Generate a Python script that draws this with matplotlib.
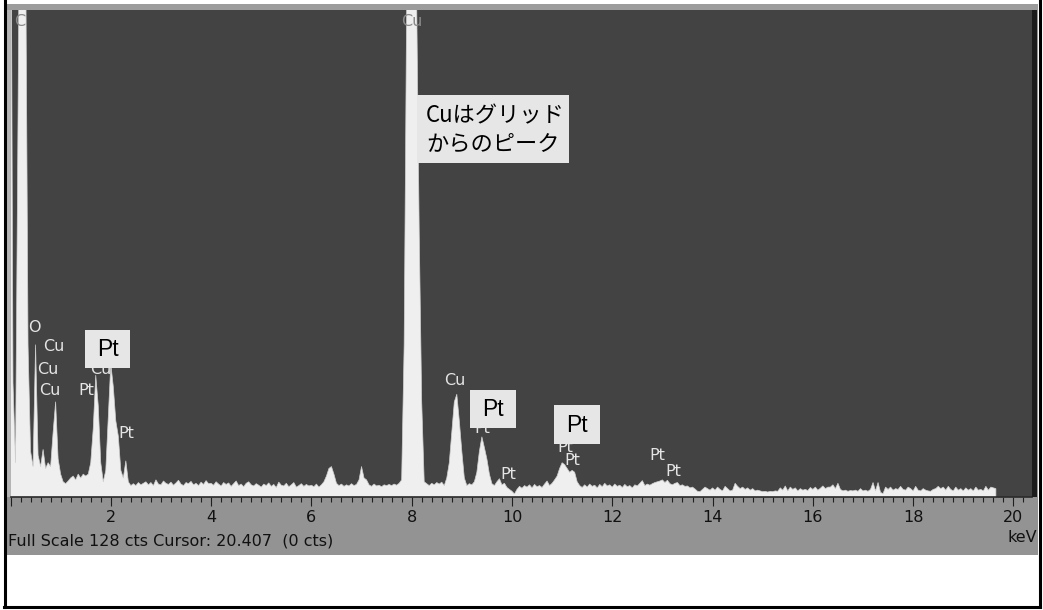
import numpy as np
import matplotlib.pyplot as plt
from matplotlib.ticker import MultipleLocator, FuncFormatter
from matplotlib.patches import Rectangle

plt.rcParams['font.family'] = ['DejaVu Sans', 'Noto Sans CJK JP']

# EDS spectrum, counts per 0.05 keV step, one row per keV
channel_kev = 0.05
counts_rows = [
    [200, 30, 9, 100, 200, 200, 150, 40, 12, 8, 40, 11, 8, 12.5, 7.5, 9, 8, 17, 25, 10],
    [6, 4, 3.5, 4.2, 5, 5.5, 4.5, 6, 5, 6, 5.5, 6, 9, 18, 32, 24, 9, 4, 7, 21],
    [35, 29, 20, 16, 7, 5, 9.5, 4, 3, 3.5, 3, 3.8, 3.2, 3.6, 4, 3.2, 3.8, 3, 4.5, 3.4],
    [3.2, 4.2, 3.6, 3.3, 3.9, 3.1, 3.7, 4.4, 3.4, 3.0, 3.8, 3.5, 4.1, 3.2, 3.6, 3.0, 3.9, 3.3, 4.3, 3.5],
    [3.6, 3.1, 4.0, 3.4, 2.9, 3.8, 3.3, 3.7, 2.8, 3.5, 4.2, 3.0, 3.4, 2.7, 3.6, 4.0, 3.2, 2.9, 3.5, 3.1],
    [2.6, 3.4, 3.0, 3.7, 2.8, 3.3, 2.5, 3.9, 3.1, 2.9, 3.6, 2.7, 3.2, 3.8, 2.6, 3.0, 3.5, 2.8, 3.3, 2.9],
    [3.1, 2.7, 3.4, 2.6, 3.2, 4.0, 5.5, 7.5, 8.0, 6.0, 3.6, 3.0, 3.4, 2.8, 3.2, 2.9, 3.5, 3.0, 3.3, 4.5],
    [8.0, 5.0, 4.5, 3.2, 2.8, 3.4, 2.9, 3.1, 2.7, 3.2, 3.0, 3.3, 3.0, 3.4, 3.1, 3.6, 4.5, 40, 130, 400],
    [600, 450, 130, 70, 25, 4, 3.5, 3.0, 3.6, 3.2, 3.8, 3.4, 3.9, 3.0, 5.0, 9, 17, 25, 27, 20],
    [12, 5, 3.0, 3.5, 3.2, 4.0, 6.5, 12, 15.8, 13, 10, 6, 3.5, 3.0, 4.0, 4.8, 3.2, 3.6, 2.5, 2.0],
    [1.5, 0.8, 2.0, 2.8, 2.3, 3.0, 2.6, 3.2, 2.4, 3.3, 2.7, 3.0, 2.5, 3.4, 4.2, 3.0, 3.6, 4.5, 5.5, 7.5],
    [9.0, 8.5, 7.5, 6.5, 7.0, 6.5, 4.0, 3.0, 2.5, 3.2, 2.6, 3.4, 2.8, 3.1, 2.4, 3.3, 2.7, 3.6, 2.9, 3.2],
    [2.6, 3.4, 2.8, 3.1, 2.5, 3.3, 2.7, 3.0, 2.4, 3.2, 2.9, 3.6, 4.3, 3.0, 3.4, 3.1, 3.5, 3.8, 4.0, 4.2],
    [4.5, 3.8, 4.4, 3.5, 3.2, 3.6, 3.8, 3.0, 3.2, 2.8, 2.9, 2.4, 2.6, 2.1, 1.5, 1.4, 2.0, 2.6, 2.2, 1.8],
    [2.4, 1.8, 2.6, 2.0, 1.6, 2.8, 2.2, 1.6, 1.8, 3.6, 2.8, 2.2, 2.6, 2.0, 2.4, 1.8, 2.2, 1.6, 1.8, 1.6],
    [1.4, 1.5, 1.3, 1.5, 1.4, 1.6, 1.5, 2.4, 1.8, 2.9, 1.6, 2.6, 2.0, 2.4, 1.6, 2.2, 1.8, 2.0, 1.7, 2.5],
    [2.0, 2.6, 1.8, 2.3, 2.9, 2.2, 2.6, 2.6, 3.2, 2.2, 3.6, 2.0, 1.6, 1.8, 1.5, 1.7, 1.6, 1.8, 1.5, 2.2],
    [1.6, 1.8, 1.5, 2.0, 3.8, 1.6, 3.8, 1.2, 0.9, 2.6, 2.0, 2.6, 1.8, 2.2, 2.0, 2.8, 2.0, 1.8, 2.6, 2.2],
    [1.6, 2.8, 1.8, 1.6, 2.2, 1.8, 1.6, 1.5, 2.0, 2.2, 2.8, 2.2, 2.6, 1.8, 2.8, 2.0, 1.6, 2.6, 1.8, 2.2],
    [1.6, 2.4, 1.8, 2.2, 1.6, 2.6, 1.8, 2.0, 1.6, 2.8, 1.8, 2.6, 2.4, 2.2],
]
counts = np.array([c for row in counts_rows for c in row], dtype=float)
energy = np.round(np.arange(len(counts)) * channel_kev, 2)

full_scale = 128
x_max_kev = 20.37
tick_labels = ['2', '4', '6', '8', '10', '12', '14', '16', '18', '20']

# peak identification labels (text, keV, counts)
peak_labels = [
    ('O', 0.47, 44.5),
    ('Cu', 0.87, 39.5), ('Cu', 0.75, 33.5), ('Cu', 0.79, 28),
    ('Pt', 1.51, 28), ('Cu', 1.80, 33.5), ('Pt', 2.30, 16.6),
    ('Cu', 8.86, 30.5), ('Pt', 9.40, 18.0), ('Pt', 9.92, 5.8),
    ('Pt', 11.06, 13.0), ('Pt', 11.21, 9.7), ('Pt', 12.89, 10.8),
    ('Pt', 13.21, 6.6),
]
# labels sitting on top of the off-scale peaks
top_labels = [('C', 0.19, 125), ('Cu', 8.0, 125)]

W, H = 1043, 610
fig = plt.figure(figsize=(W / 100, H / 100), dpi=100)
fig.patch.set_facecolor('white')

# window background behind the plot
bg = fig.add_axes([0, 0, 1, 1])
bg.set_xlim(0, W)
bg.set_ylim(H, 0)
bg.axis('off')
bg.add_patch(Rectangle((6, 4), 1032, 551, color='#939393', lw=0))
bg.add_patch(Rectangle((6, 4), 1032, 6, color='#9c9c9c', lw=0))
bg.add_patch(Rectangle((6, 10), 4.5, 487, color='#b4b4b4', lw=0))

# spectrum axes
ax_left, ax_right, ax_top, ax_bot = 10.5, 1032, 10, 497
ax = fig.add_axes([ax_left / W, 1 - ax_bot / H, (ax_right - ax_left) / W, (ax_bot - ax_top) / H])
ax.set_facecolor('#434343')
ax.fill_between(energy, counts, 0, color='#efefef', lw=0.5, edgecolor='#d0d0d0')
ax.set_xlim(0, x_max_kev)
ax.set_ylim(0, full_scale)
ax.set_yticks([])
for s in ['left', 'right', 'top']:
    ax.spines[s].set_visible(False)
ax.spines['bottom'].set_color('#2a2a2a')
ax.spines['bottom'].set_linewidth(1.2)

ax.xaxis.set_major_locator(MultipleLocator(2))
ax.xaxis.set_minor_locator(MultipleLocator(0.2))
ax.xaxis.set_major_formatter(FuncFormatter(lambda v, p: tick_labels[int(round(v / 2)) - 1]
                                           if 1 <= round(v / 2) <= len(tick_labels) else ''))
ax.tick_params(axis='x', which='major', direction='out', length=6.5, width=0.8,
               color='#1e1e1e', labelsize=11.5, labelcolor='#111111', pad=2.5)
ax.tick_params(axis='x', which='minor', direction='out', length=3.6, width=0.8, color='#1e1e1e')

for txt, e, c in peak_labels:
    ax.text(e, c, txt, color='#e4e4e4', fontsize=11.5, ha='center', va='center', zorder=3)
for txt, e, c in top_labels:
    ax.text(e, c, txt, color='#8a8a8a', fontsize=11.5, ha='center', va='center', zorder=3)

# overlay: annotation boxes, status line, frame
top = fig.add_axes([0, 0, 1, 1])
top.set_xlim(0, W)
top.set_ylim(H, 0)
top.axis('off')
top.patch.set_alpha(0)

top.add_patch(Rectangle((1032, 10), 5, 487, color='#1c1c1c', lw=0))

for x0, y0, w, h in [(85, 330, 45, 38), (470, 390, 46, 38), (554, 405, 46, 39)]:
    top.add_patch(Rectangle((x0, y0), w, h, color='#e6e6e6', lw=0))
    top.text(x0 + w / 2, y0 + h / 2 + 1, 'Pt', fontsize=16.5, color='black',
             ha='center', va='center', family=['Liberation Sans'])

top.add_patch(Rectangle((417, 95), 152, 68, color='#e6e6e6', lw=0))
jp_font = ['Noto Sans CJK JP', 'DejaVu Sans']
top.text(426, 116, 'Cuはグリッド', fontsize=16, color='black', ha='left', va='center',
         family=jp_font)
top.text(426, 144, 'からのピーク', fontsize=16, color='black', ha='left', va='center',
         family=jp_font)

top.text(8, 541, 'Full Scale 128 cts Cursor: 20.407  (0 cts)', fontsize=11.5,
         color='#111111', ha='left', va='center')
top.text(1037, 538, 'keV', fontsize=11.5, color='#111111', ha='right', va='center')

top.plot([4.5, 4.5], [0, 607], color='black', lw=2.2)
top.plot([4, 1040], [607, 607], color='black', lw=2.2)
top.plot([1040, 1040], [0, 607], color='black', lw=2.2)

fig.savefig('out.png', dpi=100, facecolor='white')
